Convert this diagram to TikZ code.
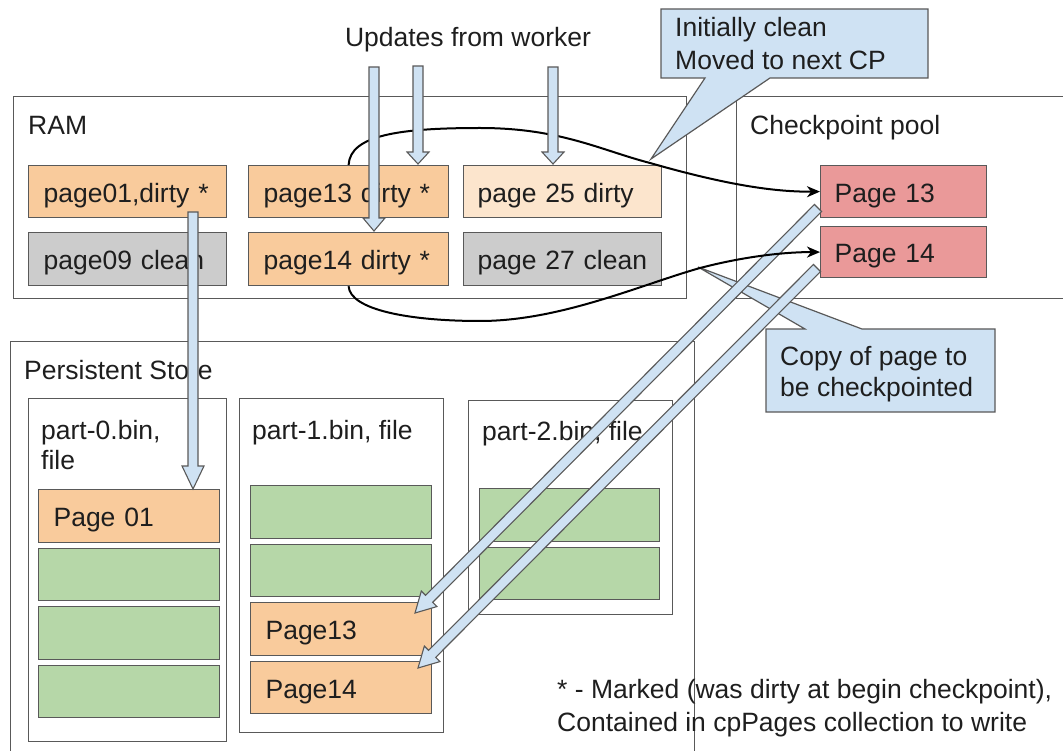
\documentclass[tikz,border=0pt]{standalone}
\usepackage{fontspec}
\setmainfont{Liberation Sans}
\usetikzlibrary{calc,arrows.meta}
\definecolor{lc}{HTML}{595959}
\definecolor{org}{HTML}{F9CB9C}
\definecolor{lorg}{HTML}{FCE5CD}
\definecolor{gry}{HTML}{CCCCCC}
\definecolor{redp}{HTML}{EA9999}
\definecolor{grn}{HTML}{B6D7A8}
\definecolor{lblue}{HTML}{CFE2F3}
\definecolor{txt}{HTML}{1E1E1E}
\newcommand{\fnt}{\fontsize{26.5}{32.5}\selectfont}
\newcommand{\blockarr}[3]{%
  \path[barr] let \p1=(#1), \p2=(#2), \p3=($(#2)!#3!(#1)$),
    \n1={veclen(\x2-\x1,\y2-\y1)}, \n2={(\x2-\x1)/\n1}, \n3={(\y2-\y1)/\n1} in
    ({\x1-5*\n3},{\y1+5*\n2}) -- ({\x3-5*\n3},{\y3+5*\n2}) -- ({\x3-11*\n3},{\y3+11*\n2})
    -- (\p2) -- ({\x3+11*\n3},{\y3-11*\n2}) -- ({\x3+5*\n3},{\y3-5*\n2})
    -- ({\x1+5*\n3},{\y1-5*\n2}) -- cycle;}
\tikzset{
  lbl/.style={inner sep=0pt, text=txt, font=\fnt},
  frame/.style={draw=lc, line width=1.2pt, anchor=north west, inner sep=0pt},
  pg/.style={draw=lc, line width=1.2pt, anchor=north west, inner xsep=15pt, inner ysep=0pt,
    text height=21pt, text depth=0pt, align=left, text=txt, font=\fnt},
  barr/.style={draw=lc, fill=lblue, line width=1.1pt, line join=miter},
  crv/.style={draw=black, line width=2pt, -{Stealth[length=13pt,width=11pt,inset=4pt]}},
  callout/.style={draw=lc, fill=lblue, line width=1.2pt, line join=miter},
}
\begin{document}
\begin{tikzpicture}[x=1pt,y=-1pt]
\useasboundingbox (0,0) rectangle (1063,751);
% outer frames
\node[frame, minimum width=673pt, minimum height=202pt] (ram) at (13,96) {};
\node[frame, minimum width=340pt, minimum height=202pt] (cpp) at (736,96) {};
\node[frame, minimum width=684pt, minimum height=430pt] (ps) at (10,341) {};
\node[frame, minimum width=198pt, minimum height=343pt] (f0) at (28,398) {};
\node[frame, minimum width=204pt, minimum height=334pt] (f1) at (239,398) {};
\node[frame, minimum width=204pt, minimum height=214pt] (f2) at (468,400) {};
% labels
\node[lbl, anchor=base west] (lram) at (28,135) {RAM};
\node[lbl, anchor=base west] (lcpp) at (750,135) {Checkpoint pool};
\node[lbl, anchor=base west] (lps) at (24,379) {Persistent Store};
\node[lbl, anchor=north west, align=left, font=\fontsize{26.5}{30}\selectfont] (lf0) at (41,420.5) {part-0.bin,\\file};
\node[lbl, anchor=base west] (lf1) at (252,439) {part-1.bin, file};
\node[lbl, anchor=base west] (lf2) at (482,440) {part-2.bin, file};
\node[lbl, anchor=base] (lupd) at (468,47) {Updates from worker};
% RAM pages
\node[pg, fill=org, minimum height=52pt, text width=168pt] (p01) at (28,165) {page01,dirty *};
\node[pg, fill=gry, minimum height=53pt, text width=168pt] (p09) at (28,232) {page09 clean};
\node[pg, fill=org, minimum height=52pt, text width=170pt] (p13) at (248,165) {page13 dirty *};
\node[pg, fill=org, minimum height=53pt, text width=170pt] (p14) at (248,232) {page14 dirty *};
\node[pg, fill=lorg, minimum height=52pt, text width=170pt, inner xsep=14pt] (p25) at (463,165) {page 25 dirty};
\node[pg, fill=gry, minimum height=53pt, text width=170pt, inner xsep=14pt] (p27) at (463,232) {page 27 clean};
% checkpoint pool pages
\node[pg, fill=redp, minimum height=52pt, text width=138pt, inner xsep=14pt] (cp13) at (820,165) {Page 13};
\node[pg, fill=redp, minimum height=51pt, text width=138pt, inner xsep=14pt] (cp14) at (820,226) {Page 14};
% part-0 pages
\node[pg, fill=org, minimum height=53pt, text width=151pt] (s01) at (38,489) {Page 01};
\node[pg, fill=grn, minimum height=52pt, text width=151pt] (s0b) at (38,548) {};
\node[pg, fill=grn, minimum height=53pt, text width=151pt] (s0c) at (38,606) {};
\node[pg, fill=grn, minimum height=52pt, text width=151pt] (s0d) at (38,665) {};
% part-1 pages
\node[pg, fill=grn, minimum height=53pt, text width=151pt] (s1a) at (250,485) {};
\node[pg, fill=grn, minimum height=52pt, text width=151pt] (s1b) at (250,544) {};
\node[pg, fill=org, minimum height=53pt, text width=151pt] (s13) at (250,602) {Page13};
\node[pg, fill=org, minimum height=52pt, text width=151pt] (s14) at (250,661) {Page14};
% part-2 pages
\node[pg, fill=grn, minimum height=53pt, text width=150pt] (s2a) at (479,488) {};
\node[pg, fill=grn, minimum height=52pt, text width=150pt] (s2b) at (479,547) {};
% callouts
\path[callout] (661,9) -- (928,9) -- (928,78) -- (770,78) -- (651,159) -- (705,78) -- (661,78) -- cycle;
\node[lbl, anchor=north west, align=left] (c1) at (675,17.5) {Initially clean\\Moved to next CP};
\path[callout] (766,329) -- (805,329) -- (698,267) -- (862,329) -- (995,329) -- (995,412) -- (766,412) -- cycle;
\node[lbl, anchor=north west, align=left, font=\fontsize{26.5}{31.5}\selectfont] (c2) at (780,346) {Copy of page to\\be checkpointed};
% diagonal copy arrows
\coordinate (d1s) at (818,208);
\coordinate (d1e) at (415,613);
\coordinate (d2s) at (817,268);
\coordinate (d2e) at (418,668);
\blockarr{d1s}{d1e}{20pt}
\blockarr{d2s}{d2e}{20pt}
% curves
\draw[crv] (p13.north) .. controls (350,135) and (400,128) .. (480,128)
  .. controls (560,128) and (600,150) .. (650,163)
  .. controls (720,183) and (770,192) .. (cp13.west);
\draw[crv] (p14.south) .. controls (350,310) and (410,321) .. (480,321)
  .. controls (560,321) and (640,285) .. (700,268)
  .. controls (750,255) and (790,252) .. (cp14.west);
% update arrows
\coordinate (u1s) at (374,67);
\coordinate (u1e) at (374,231);
\coordinate (u2s) at (418,66);
\coordinate (u2e) at (418,164);
\coordinate (u3s) at (553,67);
\coordinate (u3e) at (553,164);
\coordinate (w1s) at (193,212);
\coordinate (w1e) at (193,489);
\blockarr{u1s}{u1e}{13pt}
\blockarr{u2s}{u2e}{12pt}
\blockarr{u3s}{u3e}{12pt}
\blockarr{w1s}{w1e}{23pt}
% footnote
\node[lbl, anchor=north west, align=left, font=\fontsize{26.5}{33}\selectfont] (foot) at (557,679.5) {* - Marked (was dirty at begin checkpoint),\\Contained in cpPages collection to write};
\end{tikzpicture}
\end{document}
